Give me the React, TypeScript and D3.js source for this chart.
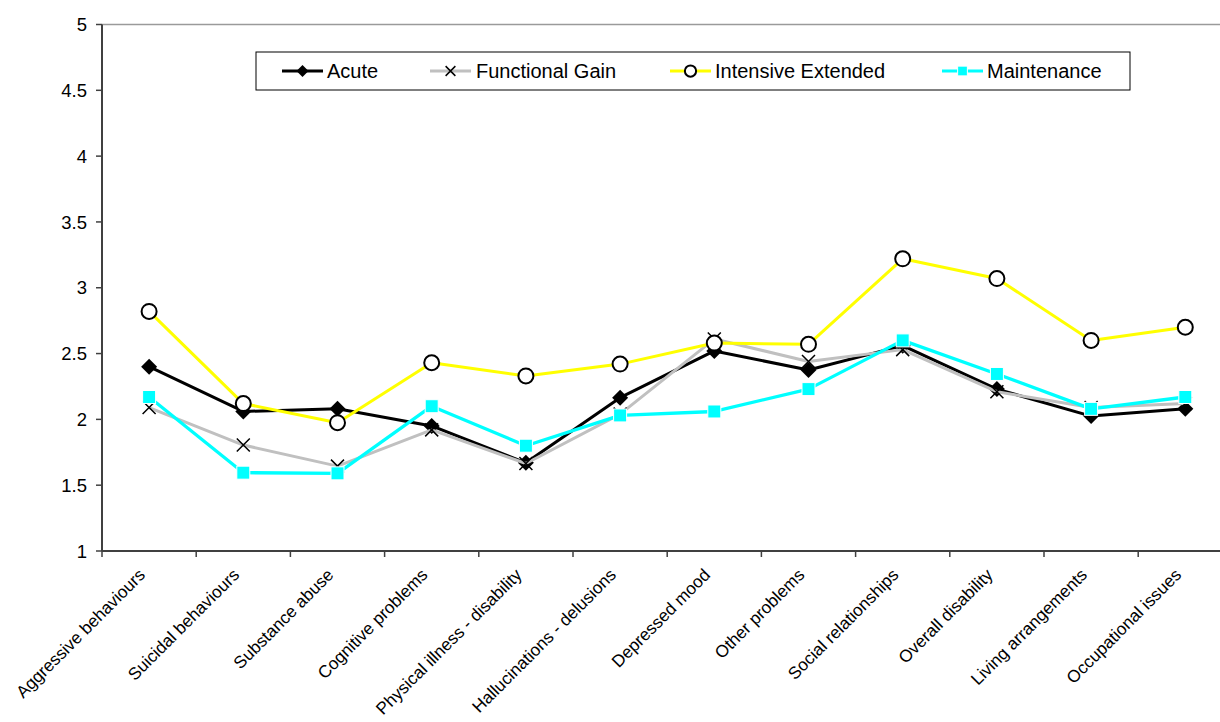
import React from "react";
import * as d3 from "d3";

const categories = [
  "Aggressive behaviours",
  "Suicidal behaviours",
  "Substance abuse",
  "Cognitive problems",
  "Physical illness - disability",
  "Hallucinations - delusions",
  "Depressed mood",
  "Other problems",
  "Social relationships",
  "Overall disability",
  "Living arrangements",
  "Occupational issues",
];

const acute = [2.4, 2.06, 2.08, 1.95, 1.67, 2.165, 2.52, 2.375, 2.56, 2.23, 2.025, 2.08];
const functionalGain = [2.09, 1.805, 1.645, 1.92, 1.665, 2.04, 2.61, 2.44, 2.53, 2.21, 2.09, 2.12];
const intensiveExtended = [2.82, 2.12, 1.975, 2.43, 2.33, 2.42, 2.58, 2.57, 3.22, 3.07, 2.6, 2.7];
const maintenance = [2.17, 1.595, 1.59, 2.1, 1.8, 2.03, 2.06, 2.23, 2.6, 2.345, 2.08, 2.17];

const yTicks = [1, 1.5, 2, 2.5, 3, 3.5, 4, 4.5, 5];

type Marker = "diamond" | "x" | "circle" | "square";

const series: { name: string; values: number[]; color: string; marker: Marker; width: number }[] = [
  { name: "Acute", values: acute, color: "#000000", marker: "diamond", width: 3 },
  { name: "Functional Gain", values: functionalGain, color: "#c0c0c0", marker: "x", width: 3 },
  { name: "Intensive Extended", values: intensiveExtended, color: "#ffff00", marker: "circle", width: 3 },
  { name: "Maintenance", values: maintenance, color: "#00ffff", marker: "square", width: 3.3 },
];

const W = 1220;
const H = 722;
const left = 102;
const step = 94.2;
const top = 24.5;
const bottom = 551;
const FONT = "Arial, 'Liberation Sans', sans-serif";

function MarkerShape({ kind, x, y, s }: { kind: Marker; x: number; y: number; s: number }) {
  if (kind === "diamond") {
    const r = 8 * s;
    return <path d={`M${x},${y - r}L${x + r},${y}L${x},${y + r}L${x - r},${y}Z`} fill="#000" />;
  }
  if (kind === "x") {
    const r = 6.5 * s;
    return (
      <path
        d={`M${x - r},${y - r}L${x + r},${y + r}M${x - r},${y + r}L${x + r},${y - r}`}
        stroke="#000"
        strokeWidth={1.5}
        fill="none"
      />
    );
  }
  if (kind === "circle") {
    return <circle cx={x} cy={y} r={7.5 * s} fill="#fff" stroke="#000" strokeWidth={2} />;
  }
  const h = 6.5 * s;
  return <rect x={x - h} y={y - h} width={2 * h} height={2 * h} fill="#00ffff" stroke="#fff" strokeWidth={1} />;
}

export default function App() {
  const x = d3
    .scaleBand<string>()
    .domain(categories)
    .range([left, left + step * categories.length])
    .paddingInner(0)
    .paddingOuter(0);
  const bw = x.bandwidth();
  const cx = (c: string) => (x(c) as number) + bw / 2;
  const y = d3.scaleLinear().domain([1, 5]).range([bottom, top]);

  const line = d3
    .line<number>()
    .x((_, i) => cx(categories[i]))
    .y((v) => y(v));

  const legendItems = [
    { lx: 282, tx: 327 },
    { lx: 430, tx: 476 },
    { lx: 670, tx: 715 },
    { lx: 942, tx: 987 },
  ];
  const legendY = 71;

  const boundaries = d3.range(categories.length + 1).map((i) => left + i * bw);

  return (
    <svg
      width={W}
      height={H}
      style={{ position: "absolute", left: 0, top: 0, background: "#fff" }}
      fontFamily={FONT}
    >
      <rect x={0} y={0} width={W} height={H} fill="#fff" />

      {/* top gridline at 5 */}
      <line x1={left} x2={left + bw * categories.length} y1={y(5)} y2={y(5)} stroke="#9a9a9a" strokeWidth={1.5} />

      {/* y axis */}
      <line x1={left} x2={left} y1={y(5)} y2={bottom} stroke="#404040" strokeWidth={2} />
      {yTicks.map((t) => (
        <g key={t}>
          <line x1={left - 6} x2={left} y1={y(t)} y2={y(t)} stroke="#404040" strokeWidth={1.5} />
          <text x={87} y={y(t)} dy="0.36em" textAnchor="end" fontSize={18.5} fill="#000">
            {String(t)}
          </text>
        </g>
      ))}

      {/* x axis */}
      <line x1={left} x2={left + bw * categories.length} y1={bottom} y2={bottom} stroke="#404040" strokeWidth={2} />
      {boundaries.map((b, i) => (
        <line key={i} x1={b} x2={b} y1={bottom} y2={bottom + 6} stroke="#404040" strokeWidth={1.5} />
      ))}
      {categories.map((c) => (
        <text
          key={c}
          transform={`translate(${cx(c) - 3},${576}) rotate(-45)`}
          textAnchor="end"
          fontSize={17.2}
          fill="#000"
        >
          {c}
        </text>
      ))}

      {/* series */}
      {series.map((s) => (
        <g key={s.name}>
          <path d={line(s.values) || ""} fill="none" stroke={s.color} strokeWidth={s.width} strokeLinejoin="round" />
          {s.values.map((v, i) => (
            <MarkerShape key={i} kind={s.marker} x={cx(categories[i])} y={y(v)} s={1} />
          ))}
        </g>
      ))}

      {/* legend */}
      <rect x={256} y={52} width={874} height={38} fill="#fff" stroke="#000" strokeWidth={1} />
      {series.map((s, i) => {
        const it = legendItems[i];
        return (
          <g key={s.name}>
            <line x1={it.lx} x2={it.lx + 41} y1={legendY} y2={legendY} stroke={s.color} strokeWidth={3} />
            <MarkerShape kind={s.marker} x={it.lx + 20.5} y={legendY} s={0.75} />
            <text x={it.tx} y={legendY} dy="0.36em" fontSize={20} fill="#000">
              {s.name}
            </text>
          </g>
        );
      })}
    </svg>
  );
}
